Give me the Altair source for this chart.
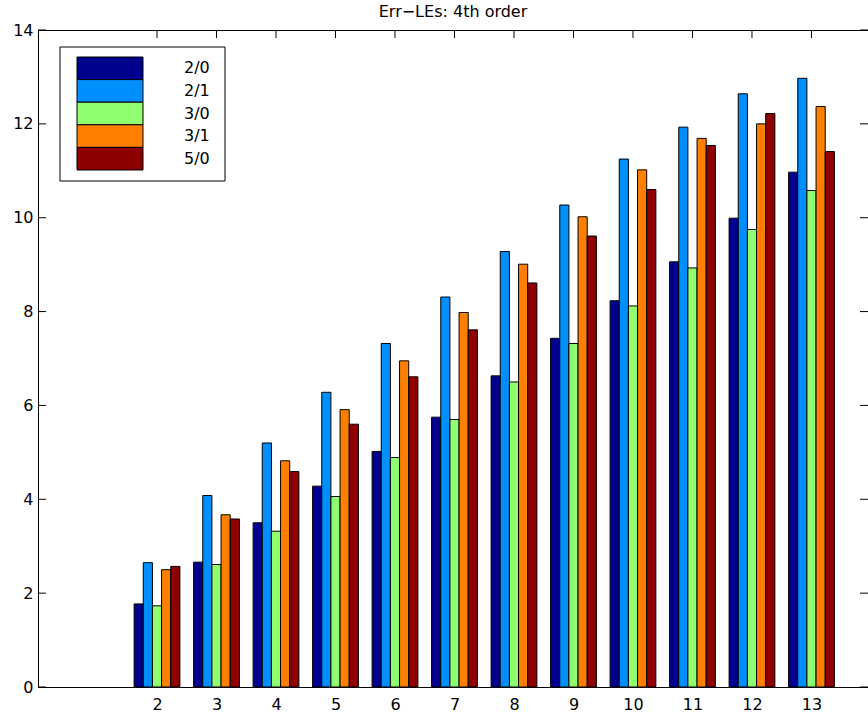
import altair as alt
import pandas as pd

# ---- data ----
groups = [2, 3, 4, 5, 6, 7, 8, 9, 10, 11, 12, 13]
series_names = ["2/0", "2/1", "3/0", "3/1", "5/0"]
s_2_0 = [1.77, 2.66, 3.50, 4.28, 5.02, 5.75, 6.63, 7.43, 8.23, 9.06, 9.99, 10.97]
s_2_1 = [2.65, 4.08, 5.20, 6.28, 7.32, 8.31, 9.28, 10.27, 11.25, 11.93, 12.64, 12.97]
s_3_0 = [1.73, 2.61, 3.32, 4.06, 4.89, 5.70, 6.50, 7.32, 8.12, 8.93, 9.75, 10.58]
s_3_1 = [2.50, 3.67, 4.82, 5.91, 6.95, 7.98, 9.01, 10.02, 11.02, 11.69, 12.00, 12.37]
s_5_0 = [2.57, 3.58, 4.59, 5.60, 6.61, 7.61, 8.61, 9.61, 10.60, 11.54, 12.22, 11.41]
x_ticks = [2, 3, 4, 5, 6, 7, 8, 9, 10, 11, 12, 13]
y_ticks = [0, 2, 4, 6, 8, 10, 12, 14]
title_text = "Err\u2212LEs: 4th order"

colors = ["#00008F", "#008FFF", "#8FFF70", "#FF8000", "#8F0000"]
FONT = "DejaVu Sans"
W, H = 830, 657

all_series = [s_2_0, s_2_1, s_3_0, s_3_1, s_5_0]
rows = []
for i, name in enumerate(series_names):
    for g, v in zip(groups, all_series[i]):
        rows.append({"group": g, "series": name, "idx": i, "value": v})
df = pd.DataFrame(rows)
xt = pd.DataFrame({"t": x_ticks})
yt = pd.DataFrame({"t": y_ticks})
leg = pd.DataFrame({"series": series_names})

xscale = alt.Scale(domain=[0, 13.95], nice=False, zero=False)
yscale = alt.Scale(domain=[0, 14], nice=False)
cscale = alt.Scale(domain=series_names, range=colors)

xaxis = alt.Axis(values=x_ticks, title=None, ticks=False, tickSize=0,
                 domain=False, grid=False, labelPadding=9,
                 labelFontSize=16, labelFont=FONT, labelColor="black",
                 labelFlush=False)
yaxis = alt.Axis(values=y_ticks, title=None, ticks=False, tickSize=0,
                 domain=False, grid=False, labelPadding=5,
                 labelFontSize=16, labelFont=FONT, labelColor="black",
                 labelFlush=False)

bars = alt.Chart(df).transform_calculate(
    x0="datum.group - 0.3846 + datum.idx * 0.15385",
    x1="datum.group - 0.3846 + (datum.idx + 1) * 0.15385",
).mark_rect(stroke="black", strokeWidth=1).encode(
    x=alt.X("x0:Q", scale=xscale, axis=xaxis),
    x2="x1:Q",
    y=alt.Y("value:Q", scale=yscale, axis=yaxis),
    y2=alt.Y2(datum=0),
    color=alt.Color("series:N", scale=cscale, legend=None),
)

left_ticks = alt.Chart(yt).mark_rule(color="black").encode(
    y=alt.Y("t:Q", scale=yscale, axis=yaxis), x=alt.value(0), x2=alt.value(8))
right_ticks = alt.Chart(yt).mark_rule(color="black").encode(
    y=alt.Y("t:Q", scale=yscale, axis=yaxis), x=alt.value(W - 8), x2=alt.value(W))
top_ticks = alt.Chart(xt).mark_rule(color="black").encode(
    x=alt.X("t:Q", scale=xscale, axis=xaxis), y=alt.value(0), y2=alt.value(8))
bottom_ticks = alt.Chart(xt).mark_rule(color="black").encode(
    x=alt.X("t:Q", scale=xscale, axis=xaxis), y=alt.value(H - 8), y2=alt.value(H))

# plot frame (box around the axes)
frame_top = alt.Chart(xt).mark_rule(color="black", strokeWidth=1).encode(
    y=alt.value(0.5), x=alt.value(0), x2=alt.value(W))
frame_bottom = alt.Chart(xt).mark_rule(color="black", strokeWidth=1).encode(
    y=alt.value(H + 0.5), x=alt.value(0), x2=alt.value(W))
frame_left = alt.Chart(xt).mark_rule(color="black", strokeWidth=1).encode(
    x=alt.value(0.5), y=alt.value(0), y2=alt.value(H + 1))

main = alt.layer(bottom_ticks, bars, left_ticks, right_ticks, top_ticks,
                 frame_top, frame_bottom, frame_left)

lscale = alt.Scale(domain=series_names, range=[27, 140], paddingInner=0, paddingOuter=0)
leg_frame = alt.Chart(leg).transform_filter("datum.series == '2/0'").mark_rect(
    fill="white", stroke="black", strokeWidth=1).encode(
    x=alt.value(22), x2=alt.value(187), y=alt.value(17), y2=alt.value(151))
leg_sw = alt.Chart(leg).mark_rect(stroke="black", strokeWidth=1).encode(
    y=alt.Y("series:N", scale=lscale, axis=None),
    x=alt.value(39), x2=alt.value(105),
    color=alt.Color("series:N", scale=cscale, legend=None),
)
leg_lab = alt.Chart(leg).mark_text(align="left", baseline="middle", font=FONT,
                                   fontSize=16, color="black").encode(
    y=alt.Y("series:N", scale=lscale, axis=None),
    x=alt.value(146),
    text="series:N",
)
legend = alt.layer(leg_frame, leg_sw, leg_lab)

chart = alt.layer(main, legend).resolve_scale(y="independent").properties(
    width=W, height=H,
    title=alt.TitleParams(title_text, font=FONT, fontSize=16, fontWeight="normal",
                          color="black", offset=2, anchor="middle"),
    autosize=alt.AutoSizeParams(type="none"),
    padding={"left": 38, "top": 30, "right": 0, "bottom": 30},
).configure_view(strokeWidth=0).configure(background="white")

chart.save("out.html", embed_options={"renderer": "svg", "actions": False})
